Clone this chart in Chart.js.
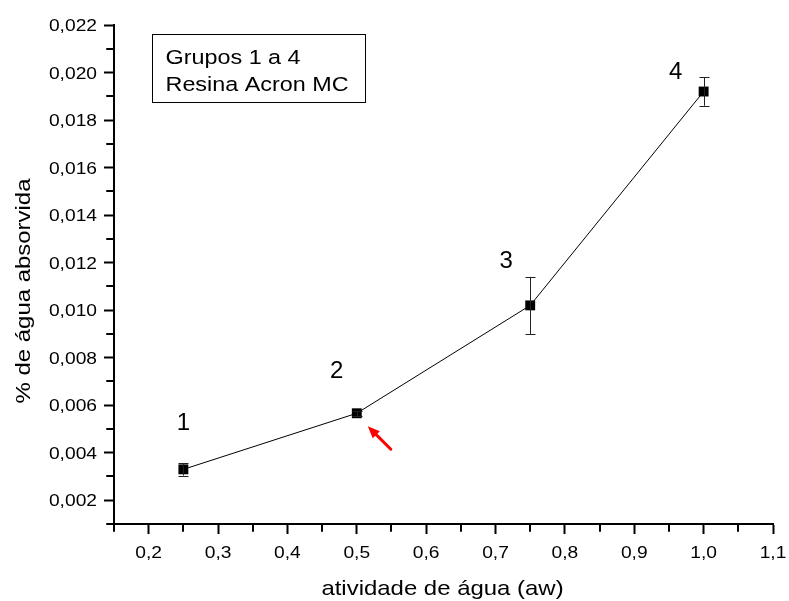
<!DOCTYPE html>
<html>
<head>
<meta charset="utf-8">
<script src="https://cdn.jsdelivr.net/npm/chart.js@4/dist/chart.umd.min.js"></script>
<style>
  html, body { margin: 0; padding: 0; background: #fff; }
  #wrap { width: 789px; height: 601px; }
</style>
</head>
<body>
<div id="wrap"><canvas id="c" width="789" height="601"></canvas></div>
<script>
// Water activity (aw) and absorbed water for groups 1-4
const xValues = [0.25, 0.50, 0.75, 1.00];
const yValues = [0.0033, 0.00566, 0.0102, 0.0192];
const yErrors = [0.00026, 0.0001, 0.0012, 0.0006];
const groupLabels = ['1', '2', '3', '4'];

const xTicks = [0.2, 0.3, 0.4, 0.5, 0.6, 0.7, 0.8, 0.9, 1.0, 1.1];
const xMinorTicks = [0.15, 0.25, 0.35, 0.45, 0.55, 0.65, 0.75, 0.85, 0.95, 1.05];
const yTicks = [0.002, 0.004, 0.006, 0.008, 0.010, 0.012, 0.014, 0.016, 0.018, 0.020, 0.022];
const yMinorTicks = [0.001, 0.003, 0.005, 0.007, 0.009, 0.011, 0.013, 0.015, 0.017, 0.019, 0.021];

const boxLines = ['Grupos 1 a 4', 'Resina Acron MC'];
const xTitle = 'atividade de água (aw)';
const yTitle = '% de água absorvida';

const FONT = '"Liberation Sans", Arial, Helvetica, sans-serif';

// where each group number sits relative to its marker (px)
const labelOffsets = [[0, -46], [-20, -42], [-24, -44], [-28, -19]];

const points = xValues.map((x, i) => ({ x: x, y: yValues[i] }));

// text drawn slightly widened, like the original typesetting
function wideText(ctx, text, x, y, sx) {
  ctx.save();
  ctx.translate(x, y);
  ctx.scale(sx, 1);
  ctx.fillText(text, 0, 0);
  ctx.restore();
}

const extras = {
  id: 'extras',
  afterDatasetsDraw(chart) {
    const ctx = chart.ctx;
    const xs = chart.scales.x, ys = chart.scales.y;
    const area = chart.chartArea;
    ctx.save();

    // error bars
    ctx.strokeStyle = '#222';
    ctx.lineWidth = 1;
    xValues.forEach((x, i) => {
      const px = Math.round(xs.getPixelForValue(x)) + 0.5;
      const top = ys.getPixelForValue(yValues[i] + yErrors[i]);
      const bot = ys.getPixelForValue(yValues[i] - yErrors[i]);
      ctx.beginPath();
      ctx.moveTo(px, top); ctx.lineTo(px, bot);
      ctx.moveTo(px - 5, Math.round(top) + 0.5); ctx.lineTo(px + 5, Math.round(top) + 0.5);
      ctx.moveTo(px - 5, Math.round(bot) + 0.5); ctx.lineTo(px + 5, Math.round(bot) + 0.5);
      ctx.stroke();
    });

    // group numbers
    ctx.fillStyle = '#000';
    ctx.font = '24px ' + FONT;
    ctx.textAlign = 'center';
    ctx.textBaseline = 'middle';
    xValues.forEach((x, i) => {
      const px = xs.getPixelForValue(x), py = ys.getPixelForValue(yValues[i]);
      ctx.fillText(groupLabels[i], px + labelOffsets[i][0], py + labelOffsets[i][1]);
    });

    // red arrow pointing at group 2
    const ax = xs.getPixelForValue(xValues[1]), ay = ys.getPixelForValue(yValues[1]);
    const tipX = ax + 11, tipY = ay + 13, tailX = ax + 34, tailY = ay + 36;
    const ang = Math.atan2(tipY - tailY, tipX - tailX);
    ctx.strokeStyle = '#ff0000';
    ctx.fillStyle = '#ff0000';
    ctx.lineWidth = 3;
    ctx.lineCap = 'round';
    ctx.beginPath();
    ctx.moveTo(tailX, tailY);
    ctx.lineTo(tipX - 8 * Math.cos(ang), tipY - 8 * Math.sin(ang));
    ctx.stroke();
    ctx.beginPath();
    ctx.moveTo(tipX, tipY);
    ctx.lineTo(tipX - 12 * Math.cos(ang) + 5 * Math.sin(ang), tipY - 12 * Math.sin(ang) - 5 * Math.cos(ang));
    ctx.lineTo(tipX - 12 * Math.cos(ang) - 5 * Math.sin(ang), tipY - 12 * Math.sin(ang) + 5 * Math.cos(ang));
    ctx.closePath();
    ctx.fill();

    // text box
    const bx = area.left + 38.5, by = area.top + 9.5, bw = 213, bh = 68;
    ctx.strokeStyle = '#000';
    ctx.lineWidth = 1;
    ctx.strokeRect(bx, by, bw, bh);
    ctx.fillStyle = '#000';
    ctx.font = '20.5px ' + FONT;
    ctx.textAlign = 'left';
    ctx.textBaseline = 'alphabetic';
    wideText(ctx, boxLines[0], bx + 13, by + 29, 1.14);
    wideText(ctx, boxLines[1], bx + 13, by + 56, 1.14);

    // minor ticks
    ctx.strokeStyle = '#000';
    ctx.lineWidth = 2;
    ctx.beginPath();
    xMinorTicks.forEach(v => {
      const px = Math.round(xs.getPixelForValue(v));
      ctx.moveTo(px, area.bottom); ctx.lineTo(px, area.bottom + 7);
    });
    yMinorTicks.forEach(v => {
      const py = Math.round(ys.getPixelForValue(v));
      ctx.moveTo(area.left, py); ctx.lineTo(area.left - 7, py);
    });
    ctx.stroke();

    // tick labels
    ctx.fillStyle = '#000';
    ctx.font = '17px ' + FONT;
    ctx.textBaseline = 'alphabetic';
    ctx.textAlign = 'right';
    yTicks.forEach(v => {
      const py = ys.getPixelForValue(v);
      wideText(ctx, v.toFixed(3).replace('.', ','), area.left - 17, py + 6, 1.13);
    });
    ctx.textAlign = 'center';
    xTicks.forEach(v => {
      const px = xs.getPixelForValue(v);
      wideText(ctx, v.toFixed(1).replace('.', ','), px, area.bottom + 34, 1.13);
    });

    // axis titles
    ctx.font = '21px ' + FONT;
    ctx.textAlign = 'center';
    ctx.textBaseline = 'alphabetic';
    wideText(ctx, xTitle, 442.5, 595, 1.14);
    ctx.translate(29.5, 291);
    ctx.rotate(-Math.PI / 2);
    wideText(ctx, yTitle, 0, 0, 1.14);
    ctx.restore();
  }
};

new Chart(document.getElementById('c'), {
  type: 'line',
  data: {
    datasets: [{
      data: points,
      borderColor: '#000',
      borderWidth: 1,
      pointStyle: 'rect',
      pointRadius: 7,
      pointHoverRadius: 7,
      pointBackgroundColor: '#000',
      pointBorderColor: '#000',
      pointBorderWidth: 0,
      tension: 0
    }]
  },
  options: {
    responsive: false,
    animation: false,
    events: [],
    layout: { padding: { left: 0, top: 25, right: 16, bottom: 0 } },
    plugins: { legend: { display: false }, tooltip: { enabled: false } },
    scales: {
      x: {
        type: 'linear',
        min: 0.15,
        max: 1.1,
        afterBuildTicks: s => { s.ticks = xTicks.map(v => ({ value: v })); },
        afterFit: s => { s.height = 77; },
        ticks: { display: false, autoSkip: false, maxRotation: 0 },
        grid: { drawOnChartArea: false, drawTicks: true, tickLength: 10, tickWidth: 2, tickColor: '#000' },
        border: { display: true, color: '#000', width: 2 }
      },
      y: {
        type: 'linear',
        min: 0.001,
        max: 0.022,
        afterBuildTicks: s => { s.ticks = yTicks.map(v => ({ value: v })); },
        afterFit: s => { s.width = 114; },
        ticks: { display: false },
        grid: { drawOnChartArea: false, drawTicks: true, tickLength: 10, tickWidth: 2, tickColor: '#000' },
        border: { display: true, color: '#000', width: 2 }
      }
    }
  },
  plugins: [extras]
});
</script>
</body>
</html>
